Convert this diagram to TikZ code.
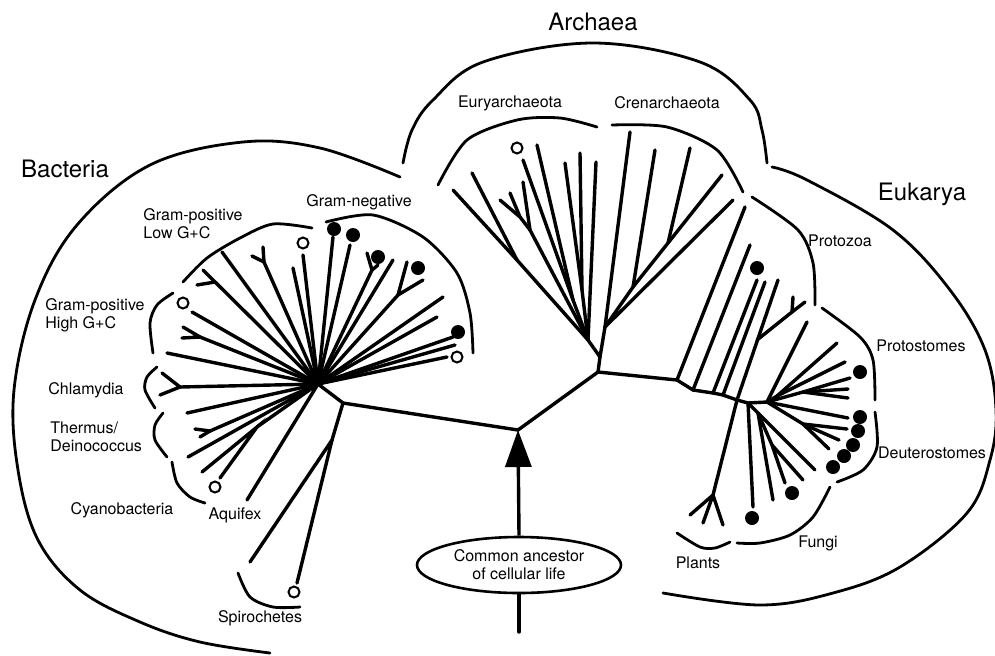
\documentclass[tikz,border=0pt]{standalone}
\usepackage{fontspec}
\setmainfont{TeX Gyre Heros}
\usetikzlibrary{arrows.meta, shapes.geometric, positioning}

\begin{document}
\begin{tikzpicture}[x=0.5pt, y=-0.5pt,
  br/.style={line width=1.7pt, line cap=round},
  rim/.style={line width=1.4pt, line cap=round},
  clade/.style={font=\fontsize{8}{9}\selectfont, inner sep=0pt, align=left},
  realm/.style={font=\fontsize{12}{14}\selectfont, inner sep=0pt},
  opendot/.style={circle, draw, line width=1pt, minimum size=5.5pt, inner sep=0pt},
  fulldot/.style={circle, fill, minimum size=7pt, inner sep=0pt}
]
\useasboundingbox (0,0) rectangle (995,655);

% domain outlines
\draw[rim] plot[smooth, tension=0.6] coordinates {(400,177) (320,148) (243,142) (150,165) (77,225) (35,300) (14,390) (18,470) (38,540) (80,590) (140,622) (200,642) (270,653)};
\draw[rim] plot[smooth, tension=0.6] coordinates {(403,163) (412,130) (433,100) (483,62) (593,43) (700,62) (750,100) (762,130) (767,163)};
\draw[rim] plot[smooth, tension=0.6] coordinates {(772,167) (807,180) (893,230) (950,290) (985,350) (996,410) (990,460) (967,513) (900,567) (833,593) (760,605) (663,593)};

% clade brackets
\draw[rim] plot[smooth] coordinates {(438,185) (467,140) (517,120) (560,118) (597,127)};
\draw[rim] plot[smooth] coordinates {(612,125) (667,127) (717,150) (743,192)};
\draw[rim] plot[smooth] coordinates {(752,197) (798,230) (813,263) (815,305)};
\draw[rim] plot[smooth] coordinates {(822,308) (860,337) (873,360) (875,400)};
\draw[rim] plot[smooth] coordinates {(875,412) (877,447) (863,470) (837,482)};
\draw[rim] plot[smooth] coordinates {(830,487) (813,517) (790,535) (760,543) (737,543)};
\draw[rim] plot[smooth] coordinates {(677,533) (700,547) (715,548) (730,542)};
\draw[rim] plot[smooth] coordinates {(326,222) (373,215) (423,237) (457,273) (470,313) (473,353)};
\draw[rim] plot[smooth] coordinates {(183,282) (207,258) (240,238) (273,224) (312,228)};
\draw[rim] plot[smooth] coordinates {(173,293) (157,305) (150,323) (153,353)};
\draw[rim] plot[smooth] coordinates {(157,367) (147,377) (145,390) (155,408)};
\draw[rim] plot[smooth] coordinates {(163,413) (155,425) (155,440) (167,457)};
\draw[rim] plot[smooth] coordinates {(172,462) (177,483) (190,497) (205,503)};
\draw[rim] plot[smooth] coordinates {(238,573) (250,597) (273,607) (300,607)};

% backbone
\coordinate (root) at (518,430);
\coordinate (bjoin) at (343,403);
\coordinate (bhub) at (318,384);
\coordinate (spj) at (332,440);
\coordinate (ahub) at (598,372);
\coordinate (afork) at (600,357);
\coordinate (euhub) at (588,340);
\coordinate (crhub) at (605,327);
\coordinate (k1) at (677,380);
\coordinate (k2) at (693,390);
\coordinate (k3) at (713,393);
\coordinate (k4) at (723,395);
\coordinate (k5) at (737,400);
\coordinate (k6) at (748,403);
\coordinate (k7) at (767,402);
\draw[br] (bhub) -- (bjoin) -- (root) -- (ahub) -- (k1) -- (k2) -- (k3) -- (k4) -- (k5) -- (k6) -- (k7);
\draw[br] (ahub) -- (afork) -- (euhub);
\draw[br] (afork) -- (crhub);

% bacteria
\foreach \x/\y in {222/252, 203/270, 264/262, 303/255, 293/268, 333/237, 350/245,
  372/270, 393/260, 398/295, 443/297, 437/317, 453/337, 455/345, 447/357,
  192/312, 200/337, 167/353, 180/387, 187/413, 210/431, 188/457, 257/427, 247/500}
  \draw[br] (bhub) -- (\x,\y);
\draw[br] (215,282) -- (197,285);
\draw[br] (263,247) -- (264,262) -- (252,256);
\draw[br] (367,253) -- (372,270) -- (378,265);
\draw[br] (407,262) -- (398,295) -- (423,280);
\draw[br] (183,327) -- (200,337) -- (182,338);
\draw[br] (162,373) -- (180,387) -- (160,395);
\draw[br] (195,429) -- (210,431) -- (200,437);
\draw[br] (202,472) -- (257,427) -- (220,478);
\draw[br] (bjoin) -- (spj) -- (250,562);
\draw[br] (spj) -- (297,583);

% archaea
\coordinate (ea) at (517,260);
\coordinate (eb) at (530,230);
\coordinate (ec) at (520,217);
\coordinate (ed) at (573,300);
\coordinate (ee) at (582,290);
\draw[br] (euhub) -- (ea) -- (453,190);
\draw[br] (ea) -- (472,173);
\draw[br] (euhub) -- (eb) -- (523,182);
\draw[br] (eb) -- (ec) -- (500,200);
\draw[br] (ec) -- (510,193);
\draw[br] (euhub) -- (ed) -- (523,160);
\draw[br] (ed) -- (537,145);
\draw[br] (euhub) -- (ee) -- (565,163);
\draw[br] (ee) -- (580,153);
\draw[br] (euhub) -- (596,162);
\coordinate (ca) at (633,287);
\coordinate (cb) at (668,243);
\draw[br] (crhub) -- (630,132);
\draw[br] (crhub) -- (733,200);
\draw[br] (crhub) -- (ca) -- (655,150);
\draw[br] (ca) -- (cb) -- (722,175);
\draw[br] (cb) -- (690,148);

% eukarya
\draw[br] (k1) -- (745,207);
\draw[br] (k2) -- (750,245);
\draw[br] (k3) -- (757,280);
\draw[br] (k4) -- (765,282);
\draw[br] (k5) -- (778,280);
\coordinate (pq) at (757,340);
\coordinate (pr) at (792,312);
\draw[br] (pq) -- (pr) -- (793,297);
\draw[br] (pr) -- (805,302);
\coordinate (pl) at (713,495);
\draw[br] (k5) -- (pl) -- (690,515);
\draw[br] (pl) -- (703,523);
\draw[br] (pl) -- (723,525);
\coordinate (fa) at (758,413);
\coordinate (fb) at (772,445);
\draw[br] (k6) -- (753,507);
\draw[br] (k6) -- (815,470);
\draw[br] (fa) -- (773,500);
\draw[br] (fa) -- (fb) -- (785,483);
\draw[br] (fb) -- (803,480);
\coordinate (dj) at (803,424);
\draw[br] (k7) -- (848,418);
\draw[br] (k7) -- (dj) -- (847,429);
\draw[br] (dj) -- (839,440);
\draw[br] (dj) -- (829,449);
\coordinate (pa) at (777,396);
\coordinate (pb) at (803,392);
\draw[br] (k7) -- (807,322);
\draw[br] (k7) -- (pa) -- (837,343);
\draw[br] (pa) -- (845,362);
\draw[br] (k7) -- (pb) -- (850,378);
\draw[br] (pb) -- (848,389);
\draw[br] (pb) -- (848,398);

% markers
\foreach \x/\y in {303/243, 183/303, 457/357, 215/487, 294/592, 517/148}
  \node[opendot] at (\x,\y) {};
\foreach \x/\y in {334/229, 353/235, 378/257, 418/268, 458/332, 757/268, 860/372,
  860/417, 858/431, 853/445, 844/456, 833/467, 792/493, 752/518}
  \node[fulldot] at (\x,\y) {};

% common ancestor
\node[ellipse, draw, line width=1.3pt, minimum width=102pt, minimum height=28pt,
  font=\fontsize{8}{9}\selectfont, align=center, inner sep=0pt] (anc) at (519,565)
  {Common ancestor\\of cellular life};
\coordinate (base) at (519,632);
\draw[br] (base) -- (anc.south);
\draw[line width=1.7pt, -{Triangle[length=18.5pt, width=13pt]}] (anc.north) -- (root);

% labels
\node[realm] (archaea) at (593,22) {Archaea};
\node[realm] (bacteria) at (65,169) {Bacteria};
\node[realm] (eukarya) at (922,194) {Eukarya};
\node[clade] (eury) at (510,103) {Euryarchaeota};
\node[clade] (cren) at (667,103) {Crenarchaeota};
\node[clade] (protozoa) at (840,241) {Protozoa};
\node[clade] (protost) at (921,346) {Protostomes};
\node[clade] (deut) at (932,453) {Deuterostomes};
\node[clade] (fungi) at (818,543) {Fungi};
\node[clade] (plants) at (698,563) {Plants};
\node[clade] (spiro) at (260,618) {Spirochetes};
\node[clade] (aquifex) at (235,515) {Aquifex};
\node[clade] (cyano) at (122,510) {Cyanobacteria};
\node[clade, anchor=west] (thermus) at (50,437) {Thermus/\\Deinococcus};
\node[clade] (chlam) at (86,390) {Chlamydia};
\node[clade, anchor=west] (highgc) at (45,315) {Gram-positive\\High G+C};
\node[clade, anchor=west] (lowgc) at (143,224) {Gram-positive\\Low G+C};
\node[clade] (gramneg) at (359,202) {Gram-negative};
\end{tikzpicture}
\end{document}
